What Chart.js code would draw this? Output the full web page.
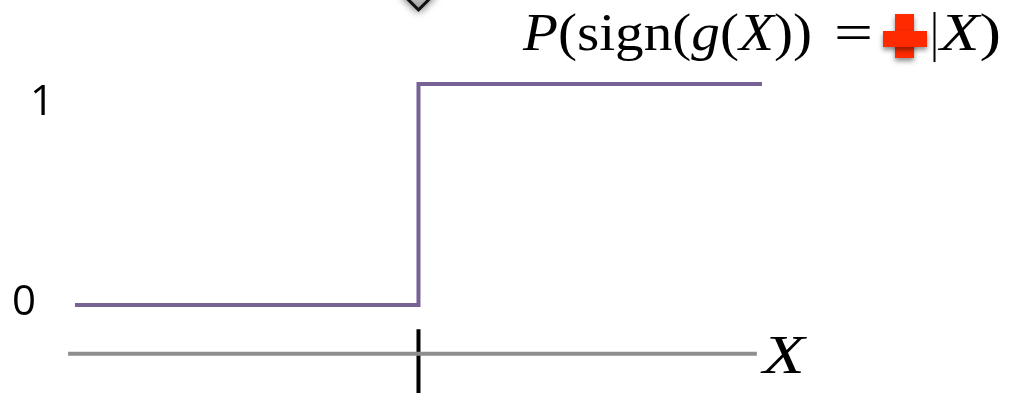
<!DOCTYPE html>
<html>
<head>
<meta charset="utf-8">
<script src="https://cdn.jsdelivr.net/npm/chart.js@4"></script>
<style>
  html, body { margin: 0; padding: 0; background: #ffffff; }
  #wrap { width: 1009px; height: 393px; }
</style>
</head>
<body>
<div id="wrap"><canvas id="stepChart"></canvas></div>
<script>
// step curve P(sign(g(X)) = + | X)
const stepX = [-1, 0, 1];
const stepY = [0, 1, 1];

// horizontal X axis line and the threshold tick
const axisX = [-1.02, 0.985];
const axisY = [-0.22, -0.22];
const tickX = [0, 0];
const tickY = [-0.11, -0.42];

// marker at the top (threshold pointer)
const markerX = [0];
const markerY = [1.403];

const yTickValues = [0, 1];
const yTickLabels = ['0', '1'];
const xAxisLabel = 'X';

const toPoints = (xs, ys) => xs.map((v, i) => ({ x: v, y: ys[i] }));

const SERIF = '"Liberation Serif", "Times New Roman", serif';

// draws serif runs of text, stretched to fit between x0 and x1
function drawRun(ctx, segs, x0, x1, base, size) {
    const fontOf = s => (s.it ? 'italic ' : '') + size + 'px ' + SERIF;
    let natural = 0;
    segs.forEach(s => { ctx.font = fontOf(s); natural += ctx.measureText(s.t).width; });
    const sx = (x1 - x0) / natural;
    ctx.save();
    ctx.translate(x0, base);
    ctx.scale(sx, 1);
    let cx = 0;
    segs.forEach(s => {
        ctx.font = fontOf(s);
        ctx.fillText(s.t, cx, 0);
        cx += ctx.measureText(s.t).width;
    });
    ctx.restore();
}

const markerShadow = {
    id: 'markerShadow',
    beforeDatasetDraw(chart, args) {
        if (args.index !== 3) return;
        const ctx = chart.ctx;
        ctx.save();
        ctx.shadowColor = 'rgba(0,0,0,0.55)';
        ctx.shadowBlur = 9;
    },
    afterDatasetDraw(chart, args) {
        if (args.index !== 3) return;
        chart.ctx.restore();
    }
};

const annotations = {
    id: 'annotations',
    afterDatasetsDraw(chart) {
        const { ctx, scales: { x, y } } = chart;
        ctx.save();
        ctx.fillStyle = '#000000';
        ctx.textBaseline = 'middle';
        ctx.textAlign = 'center';

        // y labels (they sit at slightly different offsets in the original slide)
        ctx.font = '42px "Open Sans", "Noto Sans", sans-serif';
        const offs = { '0': [24, -2], '1': [42, 19] };
        yTickValues.forEach((v, i) => {
            const o = offs[yTickLabels[i]];
            ctx.fillText(yTickLabels[i], o[0], y.getPixelForValue(v) + o[1]);
        });

        // axis name
        ctx.textAlign = 'left';
        ctx.textBaseline = 'alphabetic';
        const ax = x.getPixelForValue(axisX[1]) + 6;
        drawRun(ctx, [{ t: xAxisLabel, it: true }], ax, ax + 42, y.getPixelForValue(axisY[1]) + 19, 54);

        // formula
        const base = 50, size = 52;
        drawRun(ctx, [
            { t: 'P', it: true }, { t: '(sign(' }, { t: 'g', it: true },
            { t: '(' }, { t: 'X', it: true }, { t: '))' }
        ], 523, 812, base, size);
        drawRun(ctx, [{ t: '=' }], 834, 873, base, size);
        drawRun(ctx, [{ t: 'X', it: true }, { t: ')' }], 940, 1001, base, size);

        ctx.strokeStyle = '#000000';
        ctx.lineWidth = 2;
        ctx.beginPath();
        ctx.moveTo(934.5, 12);
        ctx.lineTo(934.5, 62);
        ctx.stroke();

        // red plus
        ctx.save();
        ctx.shadowColor = 'rgba(0,0,0,0.45)';
        ctx.shadowBlur = 5;
        ctx.shadowOffsetY = 3;
        ctx.fillStyle = '#ff2a00';
        ctx.fillRect(895, 14, 19, 44);
        ctx.fillRect(883, 31, 44, 16);
        ctx.restore();

        ctx.restore();
    }
};

function build() {
    new Chart(document.getElementById('stepChart'), {
        type: 'scatter',
        data: {
            datasets: [
                {
                    label: 'axis',
                    data: toPoints(axisX, axisY),
                    showLine: true,
                    borderColor: '#8e8e8e',
                    borderWidth: 4,
                    pointRadius: 0
                },
                {
                    label: 'P(sign(g(X)) = +|X)',
                    data: toPoints(stepX, stepY),
                    showLine: true,
                    stepped: 'before',
                    borderColor: '#766294',
                    borderWidth: 4,
                    borderJoinStyle: 'miter',
                    pointRadius: 0
                },
                {
                    label: 'threshold',
                    data: toPoints(tickX, tickY),
                    showLine: true,
                    borderColor: '#000000',
                    borderWidth: 4,
                    pointRadius: 0
                },
                {
                    label: 'marker',
                    data: toPoints(markerX, markerY),
                    pointStyle: 'rectRot',
                    pointRadius: 15,
                    backgroundColor: '#d0d0d0',
                    borderColor: '#111111',
                    borderWidth: 3,
                    clip: false
                }
            ]
        },
        options: {
            responsive: true,
            maintainAspectRatio: false,
            animation: false,
            layout: { padding: 0, autoPadding: false },
            plugins: {
                legend: { display: false },
                tooltip: { enabled: false },
                title: { display: false }
            },
            scales: {
                x: { type: 'linear', display: false, min: -1.2183, max: 1.7191 },
                y: { type: 'linear', display: false, min: -0.398, max: 1.380 }
            }
        },
        plugins: [markerShadow, annotations]
    });
}

Promise.all([
    document.fonts.load('52px "Liberation Serif"'),
    document.fonts.load('italic 52px "Liberation Serif"'),
    document.fonts.load('42px "Open Sans"')
]).then(build, build);
</script>
</body>
</html>
